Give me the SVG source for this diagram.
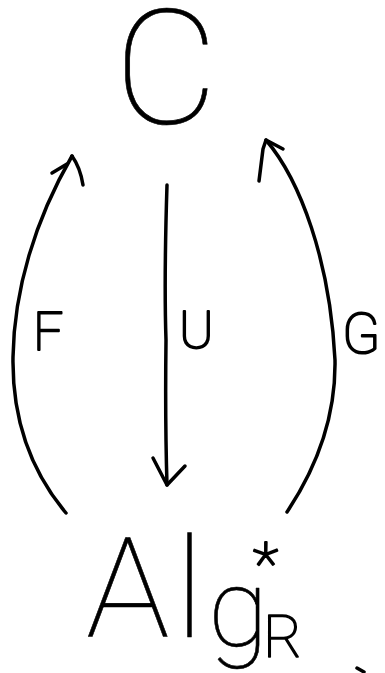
<svg xmlns="http://www.w3.org/2000/svg" width="385" height="673" viewBox="0 0 385 673">
<style>
.ln{fill:none;stroke:#000;stroke-width:3.5;stroke-linecap:round;stroke-linejoin:round}
.t{font-family:Roboto,"Liberation Sans",sans-serif;font-weight:100;fill:#000;stroke:#000;stroke-linejoin:round}
</style>
<rect width="385" height="673" fill="#fff"/>
<g id="node-C">
<text class="t" x="166" y="123" font-size="160" text-anchor="middle" stroke-width="0.6">C</text>
</g>
<g id="node-Alg">
<text class="t" font-size="140" stroke-width="0.6"><tspan x="86" y="637">A</tspan><tspan x="175" y="637">l</tspan><tspan x="208" y="646" font-size="110">g</tspan><tspan x="253" y="584" font-size="60" stroke-width="2">*</tspan><tspan x="263" y="657" font-size="60" stroke-width="1.5">R</tspan></text>
</g>
<g id="connectors">
<g id="edge-F">
<path class="ln" d="M66,513 C30,470 12,420 13,357 C14,290 35,220 72,156"/>
<path class="ln" d="M52,173 L67,164 M72,156 C77,163 81,172 83,185"/>
<text class="t" x="33" y="350" font-size="53" stroke-width="2">F</text>
</g>
<g id="edge-U">
<path class="ln" d="M167,185 Q164,280 166,340 Q165,420 167,485"/>
<path class="ln" d="M153,458 L167,485 L185,466"/>
<text class="t" x="179" y="348" font-size="52" stroke-width="2">U</text>
</g>
<g id="edge-G">
<path class="ln" d="M266,140 C300,180 330,260 335,360 C336,420 315,470 287,512"/>
<path class="ln" d="M259,181 L263,149 L266,140 L283,149"/>
<text class="t" x="342" y="353" font-size="56" stroke-width="2">G</text>
</g>
<path class="ln" d="M357,668 L364,672"/>
</g>
</svg>
